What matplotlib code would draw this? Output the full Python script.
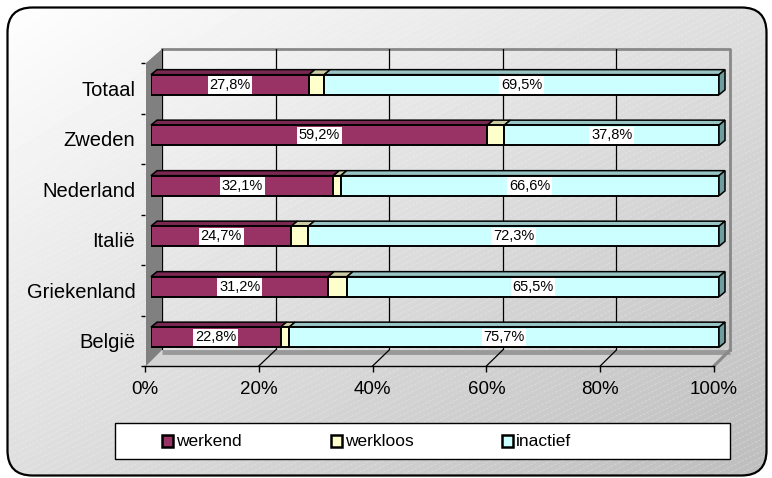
import numpy as np
import matplotlib
matplotlib.use("Agg")
import matplotlib.pyplot as plt
from matplotlib.patches import FancyBboxPatch, Polygon, Rectangle
from matplotlib.lines import Line2D

plt.rcParams['font.family'] = ['Liberation Sans', 'DejaVu Sans']

# ---------------- data ----------------
categories = ['België', 'Griekenland', 'Italië', 'Nederland', 'Zweden', 'Totaal']
werkend = [22.8, 31.2, 24.7, 32.1, 59.2, 27.8]
werkloos = [1.5, 3.3, 3.0, 1.3, 3.0, 2.7]
inactief = [75.7, 65.5, 72.3, 66.6, 37.8, 69.5]
series_names = ['werkend', 'werkloos', 'inactief']
xticks = [0, 20, 40, 60, 80, 100]
xticklabels = ['0%', '20%', '40%', '60%', '80%', '100%']

face_colors = ['#993366', '#FFFFCC', '#CCFFFF']
top_colors = ['#7a2852', '#cccca3', '#99c4c4']
side_colors = ['#6b2347', '#b3b38f', '#6f9c9c']

W, H = 772, 478
fig = plt.figure(figsize=(W / 100, H / 100), dpi=100)


def px_axes(x0, x1, ytop, ybot, z):
    ax = fig.add_axes([x0 / W, 1 - ybot / H, (x1 - x0) / W, (ybot - ytop) / H], zorder=z)
    ax.patch.set_alpha(0)
    return ax


# ---------------- background ----------------
bg = fig.add_axes([0, 0, 1, 1], zorder=0)
bg.set_xlim(0, W)
bg.set_ylim(H, 0)
bg.axis('off')
BOX = (7.5, 7.5, 759, 468)
border = FancyBboxPatch(BOX[:2], BOX[2], BOX[3], boxstyle='round,pad=0,rounding_size=25',
                        fc='none', ec='black', lw=1.6, zorder=10)
bg.add_patch(border)
yy, xx = np.mgrid[0:H, 0:W]
grad = 1 - 0.26 * np.clip(xx / W * 0.5 + yy / H * 0.5, 0, 1)
im = bg.imshow(grad, cmap='gray', vmin=0, vmax=1, extent=(0, W, H, 0), zorder=1,
               interpolation='bilinear')
clip = FancyBboxPatch(BOX[:2], BOX[2], BOX[3], boxstyle='round,pad=0,rounding_size=25',
                      fc='none', ec='none', transform=bg.transData)
bg.add_patch(clip)
im.set_clip_path(clip)
# faint diagonal texture
for x0 in np.arange(-900, W + 20, 12):
    ln, = bg.plot([x0, x0 + 1000], [H, H - 500], color='white', lw=0.5, alpha=0.35,
                  ls=(0, (4, 2)), zorder=1.5)
    ln.set_clip_path(clip)

# 3D box geometry (pixels)
FX0, FX1, FYT, FYB = 145, 714, 63, 366     # front plane
BX0, BX1, BYT, BYB = 162, 730, 49, 350     # back plane

# floor
bg.add_patch(Polygon([(FX0, FYB), (FX1, FYB), (BX1, BYB), (BX0, BYB)], closed=True,
                     fc='#d4d4d4', ec='none', zorder=2))
bg.plot([BX0, BX1], [BYB + 1.5, BYB + 1.5], color='#999999', lw=3.5, zorder=2.1,
        solid_capstyle='butt')
bg.plot([FX1, BX1], [FYB, BYB], color='#888888', lw=2.2, zorder=2.2)
# back wall outline
bg.plot([BX0, BX1, BX1], [BYT, BYT, BYB], color='#888888', lw=2, zorder=2.2)
# left wall
bg.add_patch(Polygon([(FX0 + 1, FYT), (BX0, BYT), (BX0, BYB), (FX0 + 1, FYB)], closed=True,
                     fc='#808080', ec='none', zorder=2.3))

# back wall gridlines
ax_back = px_axes(BX0, BX1, BYT, BYB, 1)
ax_back.set_xlim(0, 100)
ax_back.set_ylim(0, 1)
ax_back.set_xticks(xticks[:-1])
ax_back.grid(axis='x', color='black', lw=0.9)
ax_back.tick_params(length=0, labelbottom=False, labelleft=False)
for s in ax_back.spines.values():
    s.set_visible(False)

# front axis (ticks and labels)
ax_front = px_axes(FX0, FX1, FYT, FYB, 3)
ax_front.set_xlim(0, 100)
ax_front.set_ylim(-0.5, len(categories) - 0.5)
ax_front.set_xticks(xticks)
ax_front.set_xticklabels(xticklabels, fontsize=13.5)
ax_front.tick_params(axis='x', direction='out', length=4.5, width=1, pad=6)
ax_front.set_yticks(range(len(categories)))
ax_front.set_yticklabels(categories, fontsize=14.5)
ax_front.set_yticks(np.arange(-0.5, len(categories), 1), minor=True)
ax_front.tick_params(axis='y', which='major', length=0, pad=7)
ax_front.tick_params(axis='y', which='minor', direction='out', length=3, width=1)
for k in ['top', 'right', 'left']:
    ax_front.spines[k].set_visible(False)
ax_front.spines['bottom'].set_linewidth(1)

# diagonal floor gridlines (from back wall to front axis ticks)
inv = fig.transFigure.inverted()
for xv in xticks[1:-1]:
    p_back = inv.transform(ax_back.transData.transform((xv, 0)))
    p_front = inv.transform(ax_front.transData.transform((xv, -0.5)))
    fig.add_artist(Line2D([p_back[0], p_front[0]], [p_back[1], p_front[1]],
                          transform=fig.transFigure, color='black', lw=0.9, zorder=2.5))

# bars
ax_bar = px_axes(151, 719, FYT - 3.5, FYB - 3.5, 4)
ax_bar.set_xlim(0, 100)
ax_bar.set_ylim(-0.5, len(categories) - 0.5)
ax_bar.axis('off')
ypos = np.arange(len(categories))
bh = 0.40
ddx = 6 / 5.68
ddy = 5 / 50.5
series = [werkend, werkloos, inactief]
left = np.zeros(len(categories))
for si, vals in enumerate(series):
    vals = np.array(vals)
    ax_bar.barh(ypos, vals, left=left, height=bh, color=face_colors[si],
                edgecolor='black', lw=1.4, zorder=3)
    for yi, (l, v) in enumerate(zip(left, vals)):
        r = l + v
        yt = yi + bh / 2
        yb = yi - bh / 2
        ax_bar.add_patch(Polygon([(l, yt), (r, yt), (r + ddx, yt + ddy), (l + ddx, yt + ddy)],
                                 closed=True, fc=top_colors[si], ec='black', lw=1.1,
                                 zorder=2.5, clip_on=False))
        if si == len(series) - 1:
            ax_bar.add_patch(Polygon([(r, yb), (r, yt), (r + ddx, yt + ddy), (r + ddx, yb + ddy)],
                                     closed=True, fc=side_colors[si], ec='black', lw=1.1,
                                     zorder=2.5, clip_on=False))
        if si != 1:
            ax_bar.text(l + v / 2, yi, f'{v:.1f}%'.replace('.', ','), ha='center', va='center',
                        fontsize=10.5, zorder=5,
                        bbox=dict(boxstyle='square,pad=0.12', fc='white', ec='none'))
    left = left + vals

# legend
bg.add_patch(Rectangle((115, 423), 615, 36, fc='white', ec='black', lw=1, zorder=5))
leg_marker_x = [162, 331, 502]
for si, name in enumerate(series_names):
    bg.add_patch(Rectangle((leg_marker_x[si], 435), 11, 12, fc=face_colors[si], ec='black',
                           lw=1.8, zorder=6))
    bg.text(leg_marker_x[si] + 14, 441.5, name, fontsize=12.5, va='center', ha='left', zorder=6)

fig.savefig('out.png', dpi=100)
